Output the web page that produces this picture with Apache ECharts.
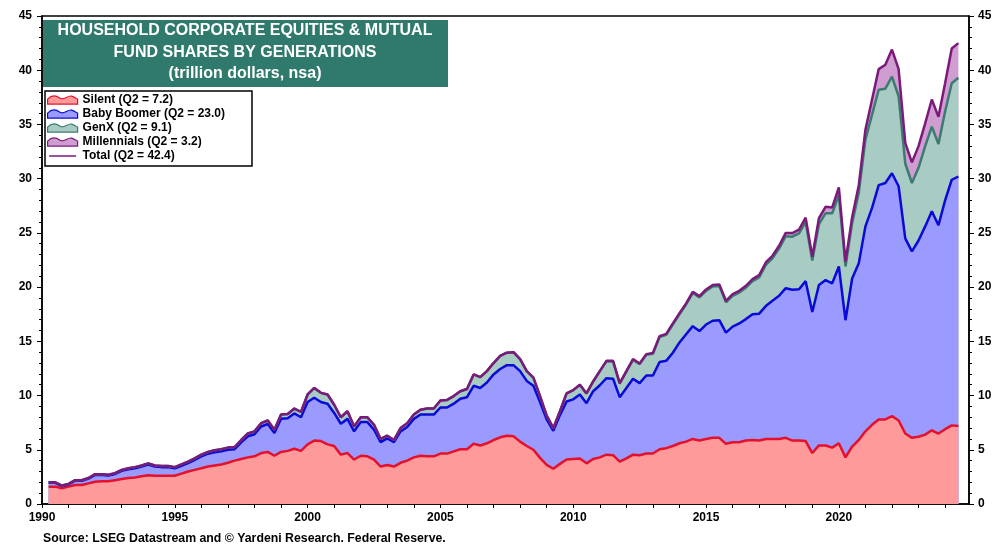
<!DOCTYPE html>
<html><head><meta charset="utf-8">
<script src="https://cdn.jsdelivr.net/npm/echarts@6/dist/echarts.min.js"></script>
<style>html,body{margin:0;padding:0;background:#fff}#c{width:1004px;height:548px}</style>
</head><body><div id="c"></div>
<script>
// Quarterly categories 1990Q1 .. 2024Q2
const quarters = [];
for (let y = 1990; y <= 2024; y++) for (let q = 1; q <= 4; q++) { if (y === 2024 && q > 2) break; quarters.push(y + 'Q' + q); }

const silent = [1.6,1.6,1.45,1.6,1.75,1.75,1.9,2.05,2.1,2.1,2.2,2.3,2.4,2.45,2.55,2.65,2.6,2.6,2.6,2.6,
2.8,3.0,3.15,3.3,3.45,3.55,3.65,3.8,4.0,4.15,4.3,4.4,4.7,4.8,4.45,4.8,4.9,5.1,4.9,5.5,
5.85,5.8,5.5,5.35,4.55,4.7,4.1,4.45,4.4,4.1,3.45,3.6,3.45,3.8,4.0,4.3,4.45,4.4,4.4,4.65,
4.65,4.85,5.05,5.05,5.55,5.4,5.6,5.9,6.15,6.3,6.25,5.75,5.35,5.0,4.25,3.6,3.25,3.7,4.1,4.15,
4.2,3.75,4.15,4.3,4.55,4.5,3.9,4.2,4.55,4.5,4.65,4.65,5.05,5.15,5.35,5.6,5.75,6.0,5.85,6.0,
6.1,6.1,5.55,5.7,5.7,5.85,5.9,5.85,6.0,6.0,6.0,6.1,5.85,5.85,5.8,4.7,5.4,5.4,5.2,5.6,
4.3,5.3,5.9,6.7,7.3,7.8,7.8,8.1,7.7,6.5,6.1,6.2,6.4,6.8,6.5,6.9,7.25,7.2];

const boomer = [0.35,0.35,0.2,0.2,0.4,0.4,0.44,0.63,0.58,0.53,0.57,0.76,0.81,0.85,0.9,0.99,0.85,0.8,0.8,0.7,
0.73,0.77,0.91,1.1,1.19,1.23,1.22,1.21,1.05,1.53,1.95,2.03,2.45,2.58,2.1,3.07,3.0,3.25,3.1,3.9,
3.95,3.6,3.75,3.05,2.85,3.15,2.6,3.1,3.15,2.75,2.25,2.45,2.25,2.9,3.1,3.55,3.8,3.85,3.85,4.25,
4.25,4.4,4.65,4.8,5.35,5.3,5.6,6.05,6.3,6.5,6.55,6.5,6.0,5.9,5.15,4.2,3.5,4.5,5.35,5.5,
5.9,5.55,6.25,6.65,7.05,7.05,5.95,6.5,7.0,6.65,7.2,7.2,8.05,8.05,8.6,9.3,9.9,10.4,10.1,10.55,
10.8,10.85,10.25,10.65,10.95,11.2,11.6,11.7,12.25,12.75,13.2,13.8,13.9,13.95,14.75,13.0,14.8,15.25,15.15,16.3,
12.65,15.5,16.3,18.9,20.0,21.6,21.8,22.4,21.6,18.0,17.2,18.1,19.2,20.2,19.2,21.1,22.65,23.0];

const genx = [0.05,0.05,0.05,0.05,0.05,0.05,0.06,0.07,0.07,0.07,0.08,0.09,0.09,0.1,0.1,0.11,0.1,0.1,0.1,0.1,
0.12,0.13,0.14,0.15,0.16,0.17,0.18,0.19,0.2,0.22,0.25,0.27,0.3,0.32,0.3,0.38,0.4,0.45,0.5,0.7,
0.9,0.85,0.85,0.75,0.6,0.7,0.45,0.45,0.45,0.45,0.3,0.25,0.2,0.3,0.35,0.4,0.45,0.55,0.55,0.65,
0.7,0.7,0.7,0.75,1.05,1.0,1.05,1.05,1.2,1.15,1.2,1.1,0.9,0.75,0.55,0.35,0.25,0.35,0.75,0.85,
0.9,0.9,0.9,1.3,1.55,1.6,1.25,1.5,1.75,1.75,1.9,2.0,2.3,2.4,2.6,2.6,2.75,3.05,3.1,3.1,
3.15,3.15,2.8,2.85,2.85,2.9,3.05,3.35,3.8,3.9,4.35,4.8,4.9,5.15,5.45,4.75,5.6,6.15,6.45,6.6,
4.95,5.1,6.5,8.0,8.6,8.8,8.7,8.9,8.3,6.9,6.3,6.7,7.4,7.8,7.5,8.2,8.9,9.1];

const millennials = [0,0,0,0,0,0,0,0,0,0,0,0,0,0,0,0,0,0,0,0,
0,0,0,0,0,0,0,0,0,0,0,0,0,0,0,0,0,0,0,0,
0,0,0,0,0,0,0,0,0,0,0,0,0,0,0,0,0,0,0,0,
0,0,0,0,0,0,0,0,0,0,0,0,0,0,0,0,0,0,0,0,
0,0,0,0,0.05,0.05,0.04,0.05,0.06,0.06,0.07,0.07,0.08,0.09,0.1,0.1,0.1,0.12,0.12,0.13,
0.14,0.15,0.14,0.15,0.16,0.17,0.18,0.2,0.22,0.24,0.26,0.3,0.33,0.36,0.4,0.35,0.55,0.6,0.55,0.7,
0.45,0.55,0.7,0.9,1.4,1.9,2.2,2.5,2.5,1.9,1.9,2.0,2.1,2.5,2.5,2.6,3.2,3.2];

const legendNames = ['Silent (Q2 = 7.2)', 'Baby Boomer (Q2 = 23.0)', 'GenX (Q2 = 9.1)', 'Millennials (Q2 = 3.2)', 'Total (Q2 = 42.4)'];
const xLabelYears = [1990, 1995, 2000, 2005, 2010, 2015, 2020];

// position of each quarter on the time axis (end of quarter)
const xPos = quarters.map(s => +s.slice(0, 4) + (+s.slice(5)) * 0.25);
const cum1 = silent.map((v, i) => v);
const cum2 = cum1.map((v, i) => v + boomer[i]);
const cum3 = cum2.map((v, i) => v + genx[i]);
const cum4 = cum3.map((v, i) => v + millennials[i]);
const pts = arr => arr.map((v, i) => [xPos[i], +v.toFixed(3)]);

const FONT = '"Liberation Sans", Arial, sans-serif';
const C = {
  silentFill: '#ff9a9a', silentLine: '#e4102c',
  boomerFill: '#9a9aff', boomerLine: '#0a0ad8',
  genxFill: '#a8cbc3', genxLine: '#3d7b72',
  millFill: '#cf9dd0', millLine: '#7b1a7b',
  total: '#7b1a7b'
};

function area(name, data, fill) {
  return { name, type: 'line', data: pts(data), showSymbol: false, symbol: 'none', silent: true,
    lineStyle: { width: 0, color: fill }, itemStyle: { color: fill }, areaStyle: { color: fill, opacity: 1 },
    z: 2, animation: false };
}
function line(name, data, color, w) {
  return { name, type: 'line', data: pts(data), showSymbol: false, symbol: 'none', silent: true,
    lineStyle: { width: w, color }, itemStyle: { color }, z: 5, animation: false };
}
const wave = 'path://M0,5 C4,1 8,1 12,4 C16,7 20,1 24,2 C27,3 29,5 30,5 L30,10 L0,10 Z';
const flat = 'path://M0,0 L0.01,0 L0.01,0.01 Z M0,4.2 L30,4.2 L30,5.8 L0,5.8 Z M0,9.99 L0.01,9.99 L0.01,10 Z';

const chart = echarts.init(document.getElementById('c'), null, { renderer: 'canvas' });
chart.setOption({
  animation: false,
  backgroundColor: '#fff',
  grid: { left: 42, right: 35, top: 16, bottom: 44, show: true, borderColor: '#000', borderWidth: 1.5, backgroundColor: 'transparent' },
  xAxis: {
    type: 'value', min: 1990, max: 2024.9, interval: 1,
    axisLine: { show: true, lineStyle: { color: '#000', width: 1.5 } },
    axisTick: { show: true, inside: false, length: 4, lineStyle: { color: '#000' } },
    axisLabel: { margin: 8, color: '#000', fontFamily: FONT, fontWeight: 'bold', fontSize: 12,
      formatter: v => xLabelYears.indexOf(v) >= 0 ? String(v) : '' , showMaxLabel: false },
    splitLine: { show: false }
  },
  yAxis: [0, 1].map(k => ({
    type: 'value', min: 0, max: 45, interval: 5, position: k ? 'right' : 'left',
    axisLine: { show: true, lineStyle: { color: '#000', width: 1.5 } },
    axisTick: { show: true, inside: false, length: 5, lineStyle: { color: '#000' } },
    minorTick: { show: true, splitNumber: 5, length: 3, lineStyle: { color: '#000' } },
    axisLabel: { margin: k ? 9 : 10, color: '#000', fontFamily: FONT, fontWeight: 'bold', fontSize: 12 },
    splitLine: { show: false }
  })),
  legend: {
    left: 45, top: 91, orient: 'vertical', backgroundColor: '#fff', borderColor: '#000', borderWidth: 1.5,
    padding: [2, 27, 3, 2], itemGap: 0, itemWidth: 30, itemHeight: 9, selectedMode: false,
    textStyle: { fontFamily: FONT, fontWeight: 'bold', fontSize: 12, color: '#000', lineHeight: 14 },
    data: [
      { name: legendNames[0], icon: wave, itemStyle: { color: C.silentFill, borderColor: C.silentLine, borderWidth: 1.2 } },
      { name: legendNames[1], icon: wave, itemStyle: { color: C.boomerFill, borderColor: C.boomerLine, borderWidth: 1.2 } },
      { name: legendNames[2], icon: wave, itemStyle: { color: C.genxFill, borderColor: C.genxLine, borderWidth: 1.2 } },
      { name: legendNames[3], icon: wave, itemStyle: { color: C.millFill, borderColor: C.millLine, borderWidth: 1.2 } },
      { name: legendNames[4], icon: flat, itemStyle: { color: C.total, borderWidth: 0 } }
    ]
  },
  graphic: [
    { type: 'rect', left: 43, top: 20, z: 100, shape: { width: 405, height: 67 }, style: { fill: '#2f7a6c' } },
    { type: 'text', z: 101, x: 245, y: 20, style: {
        text: 'HOUSEHOLD CORPORATE EQUITIES & MUTUAL\nFUND SHARES BY GENERATIONS\n(trillion dollars, nsa)',
        fill: '#fff', font: 'bold 16px ' + FONT, align: 'center', verticalAlign: 'top', lineHeight: 21.5 } },
    { type: 'text', z: 101, x: 43, y: 539, style: {
        text: 'Source: LSEG Datastream and \u00A9 Yardeni Research. Federal Reserve.',
        fill: '#000', font: 'bold 12.3px ' + FONT, align: 'left', verticalAlign: 'middle' } }
  ],
  series: [
    area(legendNames[3], cum4, C.millFill),
    area(legendNames[2], cum3, C.genxFill),
    area(legendNames[1], cum2, C.boomerFill),
    area(legendNames[0], cum1, C.silentFill),
    line('silentLine', cum1, C.silentLine, 2.5),
    line('boomerLine', cum2, C.boomerLine, 2.5),
    line('genxLine', cum3, C.genxLine, 2.5),
    line(legendNames[4], cum4, C.total, 2.5)
  ]
});
</script></body></html>
